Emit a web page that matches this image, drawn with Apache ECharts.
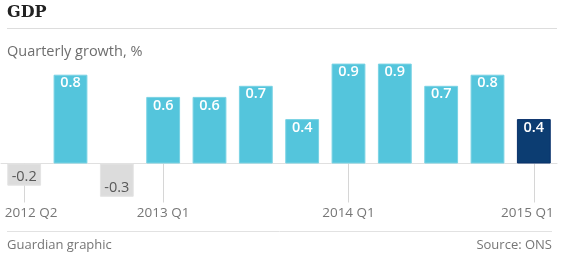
<!DOCTYPE html>
<html><head><meta charset="utf-8">
<script src="https://cdn.jsdelivr.net/npm/echarts@6/dist/echarts.min.js"></script>
<style>html,body{margin:0;padding:0;background:#fff}#c{width:564px;height:259px}</style>
</head><body><div id="c"></div>
<script>
const categories = ["2012 Q2","2012 Q3","2012 Q4","2013 Q1","2013 Q2","2013 Q3","2013 Q4","2014 Q1","2014 Q2","2014 Q3","2014 Q4","2015 Q1"];
const growth = [-0.2, 0.8, -0.3, 0.6, 0.6, 0.7, 0.4, 0.9, 0.9, 0.7, 0.8, 0.4];
const tickIndices = [0, 3, 7, 11];
const highlightIndex = 11;

const FONT = '"Open Sans", sans-serif';
const GREY = '#767676';
const chart = echarts.init(document.getElementById('c'), null, {renderer: 'canvas'});

const seriesData = growth.map((v, i) => {
  const neg = v < 0;
  const hi = i === highlightIndex;
  return {
    value: v,
    itemStyle: {
      color: neg ? '#dcdcdc' : (hi ? '#0c3d72' : '#54c5dc'),
      borderColor: neg ? '#e4e4e4' : (hi ? '#08306a' : '#7ad3e4'),
      borderWidth: 1
    },
    label: {
      show: true,
      position: neg ? 'insideBottom' : 'insideTop',
      distance: 1,
      color: neg ? '#585858' : '#ffffff',
      fontFamily: FONT,
      fontSize: 14.5,
      fontWeight: neg ? 'normal' : 600
    }
  };
});

chart.setOption({
  animation: false,
  grid: {left: 1, right: 7, top: 52.5, bottom: 62.2, containLabel: false},
  graphic: [
    {type: 'text', left: 7, top: 5, style: {text: 'GDP', font: 'bold 16px "DejaVu Serif", serif', fill: '#222'}},
    {type: 'line', shape: {x1: 7, y1: 28.5, x2: 557, y2: 28.5}, style: {stroke: '#dddddd', lineWidth: 1}},
    {type: 'text', left: 7, top: 44, style: {text: 'Quarterly growth, %', font: '14.5px ' + FONT, fill: '#6e6e6e'}},
    {type: 'line', shape: {x1: 7, y1: 231.5, x2: 552, y2: 231.5}, style: {stroke: '#e2e2e2', lineWidth: 1}},
    {type: 'text', left: 7, top: 239, style: {text: 'Guardian graphic', font: '13px ' + FONT, fill: GREY}},
    {type: 'text', right: 12, top: 239, style: {text: 'Source: ONS', font: '13px ' + FONT, fill: GREY, textAlign: 'right'}}
  ],
  xAxis: {
    type: 'category',
    data: categories,
    axisLine: {show: true, onZero: true, lineStyle: {color: '#e0e0e0', width: 1}},
    axisTick: {
      show: true,
      alignWithLabel: true,
      length: 39,
      interval: (idx) => tickIndices.includes(idx),
      lineStyle: {color: '#d6d6d6', width: 1}
    },
    axisLabel: {
      interval: (idx) => tickIndices.includes(idx),
      margin: 9,
      color: GREY,
      fontFamily: FONT,
      fontSize: 13.5,
      formatter: (val, idx) => {
        if (idx === 0) return '{first|' + val + '}';
        if (idx === categories.length - 1) return '{last|' + val + '}';
        return val;
      },
      rich: {
        first: {color: GREY, fontFamily: FONT, fontSize: 13.5, padding: [0, 0, 0, 14]},
        last: {color: GREY, fontFamily: FONT, fontSize: 13.5, padding: [0, 13, 0, 0]}
      }
    }
  },
  yAxis: {
    type: 'value', min: -0.3, max: 1.0, show: false,
    splitLine: {show: false}
  },
  series: [{
    type: 'bar',
    data: seriesData,
    barCategoryGap: '27%'
  }]
});
</script></body></html>
